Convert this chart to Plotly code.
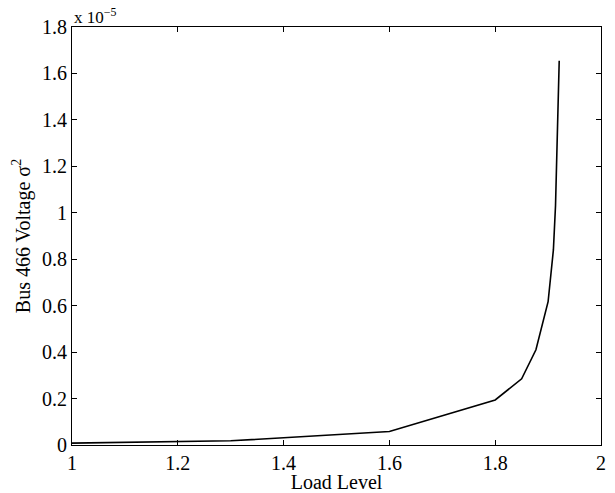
import plotly.graph_objects as go

# Load levels and variance of bus 466 voltage (in units of 1e-5)
load_level = [1.0, 1.3, 1.6, 1.8, 1.85, 1.877, 1.90, 1.91, 1.914, 1.921]
sigma2_e5 = [0.008, 0.018, 0.058, 0.194, 0.285, 0.41, 0.617, 0.84, 1.03, 1.655]

x_ticks = [1, 1.2, 1.4, 1.6, 1.8, 2]
y_ticks = [0, 0.2, 0.4, 0.6, 0.8, 1, 1.2, 1.4, 1.6, 1.8]

font_family = "Liberation Serif, Times New Roman, serif"
FS = 20

fig = go.Figure()
fig.add_trace(go.Scatter(
    x=load_level, y=sigma2_e5, mode="lines",
    line=dict(color="black", width=1.6),
    showlegend=False, hoverinfo="skip",
))

axis_common = dict(
    showline=True, linecolor="black", linewidth=1, mirror="allticks",
    ticks="inside", ticklen=5, tickcolor="black", tickwidth=1,
    showgrid=False, zeroline=False, automargin=False,
    tickfont=dict(family=font_family, size=FS, color="black"),
)

fig.update_layout(
    width=615, height=493,
    margin=dict(l=72, r=14, t=27, b=48),
    paper_bgcolor="white", plot_bgcolor="white",
    font=dict(family=font_family, color="black", size=FS),
    xaxis=dict(range=[1, 2], tickvals=x_ticks, ticktext=[str(v) for v in x_ticks],
               title=dict(text="Load Level", font=dict(family=font_family, size=FS), standoff=0),
               **axis_common),
    yaxis=dict(range=[0, 1.8], tickvals=y_ticks, ticktext=[str(v) for v in y_ticks],
               title=dict(text="Bus 466 Voltage σ<sup>2</sup>", font=dict(family=font_family, size=FS), standoff=6),
               **axis_common),
    annotations=[dict(
        text="x 10<sup>−5</sup>", xref="paper", yref="paper", x=0, y=1,
        xanchor="left", yanchor="bottom", showarrow=False,
        font=dict(family=font_family, size=17, color="black"), yshift=-2,
    )],
)

fig.write_html("out.html", config={"displayModeBar": False},
               post_script="document.body.style.margin='0';")
